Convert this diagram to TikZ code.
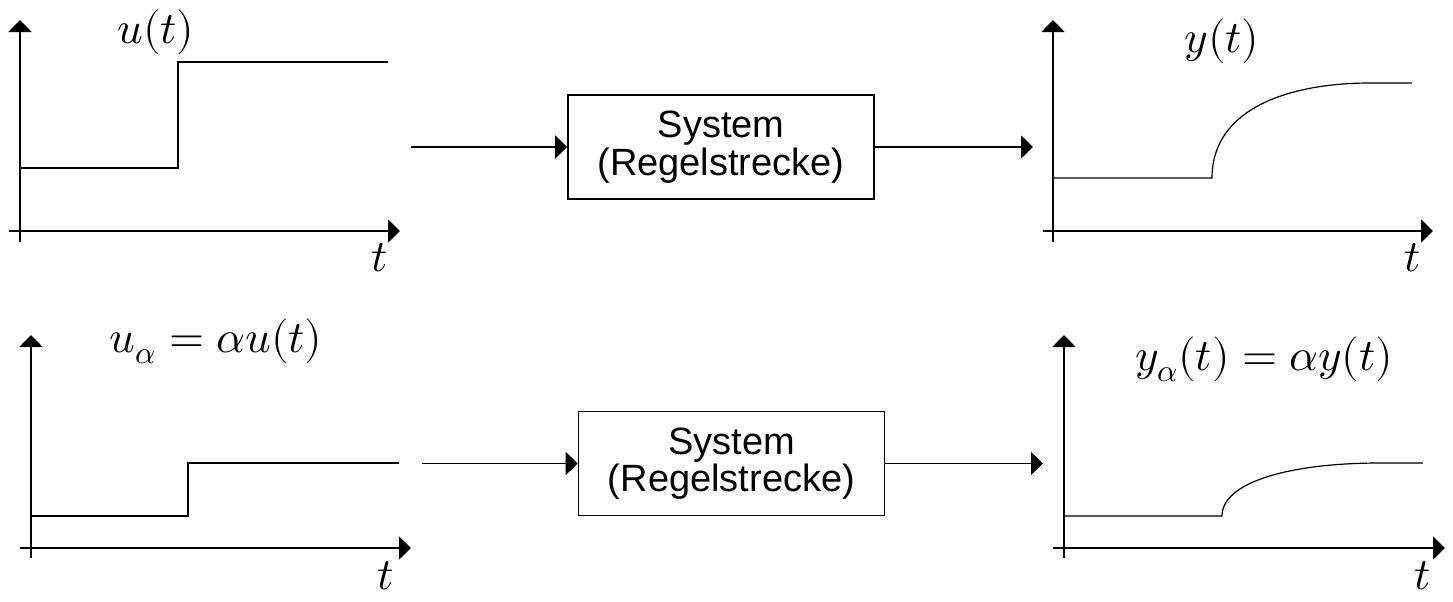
\documentclass[tikz,border=0pt]{standalone}
\usepackage{fontspec}
\usepackage{unicode-math}
\setmathfont{Latin Modern Math}
\setsansfont{Liberation Sans}
\usetikzlibrary{arrows.meta}
\begin{document}
\begin{tikzpicture}[x=0.5pt,y=-0.5pt,
  axis/.style={line width=0.9pt,-{Triangle[length=6pt,width=11.5pt]}},
  sig/.style={line width=0.75pt},
  curv/.style={line width=0.6pt},
  conn/.style={line width=0.8pt,-{Triangle[length=6pt,width=11.5pt]}},
  sysbox/.style={draw,line width=0.8pt,minimum width=153pt,minimum height=52pt,inner sep=0pt,align=center,font=\sffamily\fontsize{19}{16.2}\selectfont},
  lbl/.style={inner sep=0pt,anchor=base,font=\fontsize{22.5}{26}\selectfont}]
\useasboundingbox (0,0) rectangle (1453,601);

% system boxes
\node[sysbox] (s1) at (721,147) {System\\(Regelstrecke)};
\node[sysbox] (s2) at (731.5,463.5) {System\\(Regelstrecke)};

% connectors
\coordinate (i1) at (411,147);
\coordinate (o1) at (1033,147);
\coordinate (i2) at (422,463.5);
\coordinate (o2) at (1043,463.5);
\draw[conn] (i1) -- (s1.west);
\draw[conn] (s1.east) -- (o1);
\draw[conn] (i2) -- (s2.west);
\draw[conn] (s2.east) -- (o2);

% top-left plot
\draw[axis] (20,242) -- (20,20);
\draw[axis] (9,231) -- (400,231);
\draw[sig] (20,168) -- (178,168) -- (178,62) -- (388,62);
\node[lbl] (lu) at (156,43) {$u(t)$};
\node[lbl] (t1) at (380,271) {$t$};

% top-right plot
\draw[axis] (1053,242) -- (1053,20);
\draw[axis] (1043,231) -- (1433,231);
\draw[curv] (1053,178) -- (1212,178) .. controls (1212,108) and (1290,83) .. (1370,83) -- (1412,83);
\node[lbl] (ly) at (1222,52) {$y(t)$};
\node[lbl] (t2) at (1413,271) {$t$};

% bottom-left plot
\draw[axis] (31,558) -- (31,335);
\draw[axis] (20,548) -- (411,548);
\draw[sig] (31,516) -- (188,516) -- (188,463) -- (399,463);
\node[lbl] (lua) at (216,352) {$u_\alpha = \alpha u(t)$};
\node[lbl] (t3) at (386,589) {$t$};

% bottom-right plot
\draw[axis] (1064,558) -- (1064,335);
\draw[axis] (1053,548) -- (1445,548);
\draw[curv] (1064,516) -- (1222,516) .. controls (1222,482) and (1290,463) .. (1380,463) -- (1423,463);
\node[lbl] (lya) at (1264,370) {$y_\alpha(t) = \alpha y(t)$};
\node[lbl] (t4) at (1423,589) {$t$};
\end{tikzpicture}
\end{document}
